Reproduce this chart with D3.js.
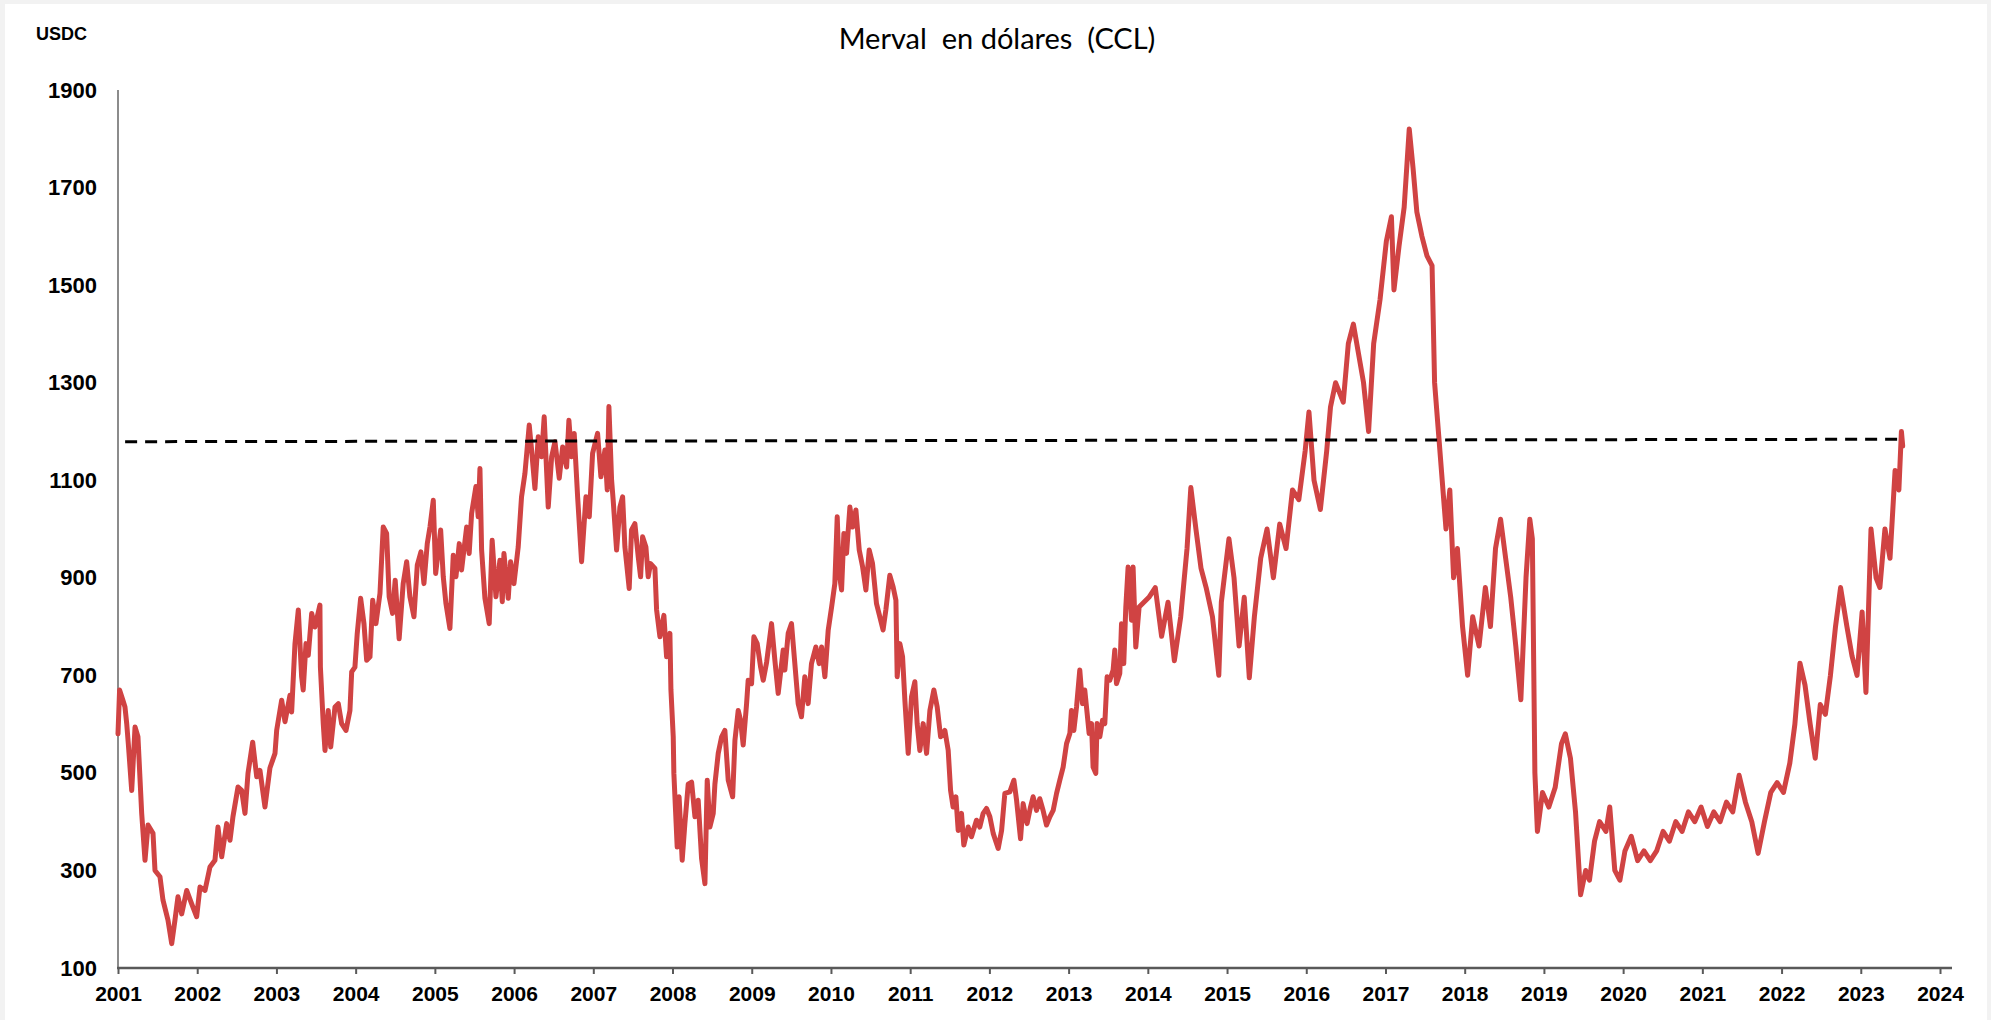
<!DOCTYPE html>
<html>
<head>
<meta charset="utf-8">
<script src="https://cdn.jsdelivr.net/npm/d3@7"></script>
<style>
  html, body { margin: 0; padding: 0; background: #f2f2f2; }
  svg { display: block; }
  .tick text { font-family: "Liberation Sans", Arial, sans-serif; font-weight: bold; fill: #000; }
  .y-axis .tick text { font-size: 22px; }
  .x-axis .tick text { font-size: 21px; }
</style>
</head>
<body>
<svg id="chart" width="1991" height="1020"></svg>
<script>
// Merval index priced in USD (CCL).
// [position on the year axis, value]
const mervalSeries = [
  [2001.000, 580], [2001.020, 670], [2001.060, 650], [2001.088, 635], [2001.110, 601], [2001.130, 560],
  [2001.173, 464], [2001.215, 594], [2001.252, 574], [2001.299, 417], [2001.341, 321], [2001.379, 393],
  [2001.442, 376], [2001.467, 300], [2001.530, 287], [2001.568, 239], [2001.631, 198], [2001.678, 150],
  [2001.719, 198], [2001.757, 246], [2001.804, 211], [2001.867, 259], [2001.929, 232], [2001.993, 205],
  [2002.035, 266], [2002.098, 259], [2002.161, 307], [2002.224, 321], [2002.262, 389], [2002.309, 328],
  [2002.372, 396], [2002.414, 362], [2002.451, 410], [2002.515, 471], [2002.561, 464], [2002.603, 417],
  [2002.641, 499], [2002.700, 563], [2002.751, 492], [2002.792, 505], [2002.855, 430], [2002.918, 510],
  [2002.982, 540], [2003.003, 587], [2003.066, 649], [2003.108, 605], [2003.171, 659], [2003.192, 625],
  [2003.234, 765], [2003.276, 834], [2003.318, 697], [2003.338, 670], [2003.373, 765], [2003.402, 741],
  [2003.445, 827], [2003.486, 799], [2003.549, 844], [2003.555, 717], [2003.591, 601], [2003.613, 546],
  [2003.654, 628], [2003.685, 553], [2003.739, 635], [2003.781, 642], [2003.823, 601], [2003.878, 587],
  [2003.928, 628], [2003.950, 707], [2003.991, 717], [2004.020, 786], [2004.063, 858], [2004.105, 806],
  [2004.139, 731], [2004.181, 738], [2004.215, 854], [2004.256, 806], [2004.307, 868], [2004.348, 1004],
  [2004.391, 991], [2004.423, 861], [2004.466, 827], [2004.499, 895], [2004.549, 775], [2004.600, 888],
  [2004.644, 933], [2004.685, 861], [2004.736, 820], [2004.778, 926], [2004.824, 953], [2004.862, 888],
  [2004.904, 970], [2004.938, 1004], [2004.980, 1059], [2005.010, 909], [2005.073, 998], [2005.106, 902],
  [2005.140, 847], [2005.190, 796], [2005.232, 946], [2005.266, 902], [2005.308, 970], [2005.337, 916],
  [2005.401, 1004], [2005.433, 950], [2005.464, 1032], [2005.518, 1087], [2005.547, 1025], [2005.569, 1124],
  [2005.590, 957], [2005.632, 858], [2005.686, 806], [2005.723, 977], [2005.771, 861], [2005.821, 936],
  [2005.851, 851], [2005.872, 950], [2005.926, 858], [2005.956, 933], [2005.998, 888], [2006.052, 963],
  [2006.094, 1066], [2006.137, 1114], [2006.191, 1213], [2006.221, 1162], [2006.263, 1083], [2006.305, 1189],
  [2006.347, 1148], [2006.380, 1230], [2006.431, 1045], [2006.474, 1148], [2006.516, 1179], [2006.570, 1104],
  [2006.613, 1168], [2006.663, 1127], [2006.692, 1223], [2006.726, 1148], [2006.759, 1196], [2006.802, 1066],
  [2006.852, 933], [2006.907, 1066], [2006.949, 1025], [2006.991, 1155], [2007.054, 1196], [2007.096, 1107],
  [2007.147, 1162], [2007.176, 1080], [2007.197, 1251], [2007.231, 1100], [2007.251, 1059], [2007.294, 957],
  [2007.336, 1045], [2007.370, 1066], [2007.399, 963], [2007.453, 878], [2007.483, 998], [2007.525, 1011],
  [2007.567, 943], [2007.597, 902], [2007.622, 984], [2007.664, 963], [2007.693, 902], [2007.723, 929],
  [2007.778, 919], [2007.799, 834], [2007.841, 779], [2007.891, 823], [2007.925, 738], [2007.967, 786],
  [2007.980, 670], [2008.009, 574], [2008.017, 499], [2008.059, 348], [2008.083, 451], [2008.122, 321],
  [2008.156, 396], [2008.198, 477], [2008.241, 481], [2008.283, 410], [2008.324, 444], [2008.367, 324],
  [2008.409, 273], [2008.438, 485], [2008.472, 389], [2008.514, 417], [2008.535, 477], [2008.577, 540],
  [2008.620, 574], [2008.661, 587], [2008.703, 485], [2008.759, 451], [2008.788, 567], [2008.829, 628],
  [2008.859, 608], [2008.892, 557], [2008.935, 642], [2008.955, 690], [2008.998, 683], [2009.027, 779],
  [2009.069, 765], [2009.112, 717], [2009.145, 690], [2009.188, 727], [2009.250, 806], [2009.292, 731],
  [2009.334, 663], [2009.397, 752], [2009.418, 711], [2009.460, 786], [2009.502, 806], [2009.544, 724],
  [2009.586, 642], [2009.628, 615], [2009.670, 697], [2009.712, 642], [2009.754, 724], [2009.809, 758],
  [2009.851, 724], [2009.882, 758], [2009.923, 697], [2009.965, 792], [2010.008, 840], [2010.049, 888],
  [2010.079, 1025], [2010.104, 909], [2010.134, 875], [2010.163, 991], [2010.197, 950], [2010.239, 1045],
  [2010.273, 1004], [2010.315, 1039], [2010.357, 957], [2010.399, 923], [2010.441, 875], [2010.483, 957],
  [2010.525, 929], [2010.575, 847], [2010.617, 820], [2010.658, 793], [2010.693, 834], [2010.743, 905],
  [2010.785, 881], [2010.820, 854], [2010.836, 697], [2010.870, 765], [2010.904, 738], [2010.933, 649],
  [2010.975, 540], [2011.017, 656], [2011.059, 687], [2011.088, 601], [2011.122, 546], [2011.164, 601],
  [2011.207, 540], [2011.249, 628], [2011.299, 670], [2011.341, 635], [2011.384, 574], [2011.438, 587],
  [2011.480, 546], [2011.510, 464], [2011.542, 430], [2011.577, 451], [2011.606, 382], [2011.648, 417],
  [2011.677, 352], [2011.732, 389], [2011.774, 369], [2011.837, 403], [2011.879, 389], [2011.921, 417],
  [2011.964, 427], [2012.006, 410], [2012.048, 376], [2012.111, 345], [2012.154, 382], [2012.195, 458],
  [2012.258, 461], [2012.309, 485], [2012.343, 444], [2012.393, 365], [2012.426, 437], [2012.476, 396],
  [2012.519, 430], [2012.552, 451], [2012.595, 423], [2012.636, 447], [2012.678, 423], [2012.721, 393],
  [2012.763, 410], [2012.805, 423], [2012.848, 458], [2012.889, 485], [2012.931, 512], [2012.974, 560],
  [2013.016, 581], [2013.036, 628], [2013.066, 587], [2013.100, 635], [2013.141, 711], [2013.175, 642],
  [2013.204, 670], [2013.234, 622], [2013.259, 581], [2013.289, 601], [2013.309, 512], [2013.343, 499],
  [2013.359, 601], [2013.394, 574], [2013.428, 608], [2013.457, 601], [2013.486, 697], [2013.520, 690],
  [2013.562, 711], [2013.583, 752], [2013.604, 683], [2013.646, 704], [2013.668, 806], [2013.696, 724],
  [2013.722, 840], [2013.751, 922], [2013.794, 813], [2013.814, 922], [2013.848, 758], [2013.890, 840],
  [2014.014, 860], [2014.094, 880], [2014.174, 780], [2014.255, 850], [2014.335, 730], [2014.415, 820],
  [2014.495, 960], [2014.543, 1085], [2014.607, 1000], [2014.671, 920], [2014.736, 880], [2014.816, 820],
  [2014.896, 700], [2014.928, 850], [2015.024, 980], [2015.088, 900], [2015.152, 760], [2015.217, 860],
  [2015.281, 695], [2015.345, 820], [2015.425, 940], [2015.505, 1000], [2015.585, 900], [2015.665, 1010],
  [2015.745, 960], [2015.826, 1080], [2015.906, 1060], [2015.986, 1160], [2016.034, 1240], [2016.098, 1100],
  [2016.178, 1040], [2016.258, 1160], [2016.306, 1250], [2016.370, 1300], [2016.467, 1260], [2016.531, 1380],
  [2016.595, 1420], [2016.659, 1360], [2016.723, 1300], [2016.787, 1200], [2016.851, 1380], [2016.931, 1470],
  [2017.011, 1590], [2017.075, 1640], [2017.107, 1490], [2017.171, 1580], [2017.236, 1660], [2017.300, 1820],
  [2017.348, 1740], [2017.396, 1650], [2017.460, 1600], [2017.524, 1560], [2017.588, 1540], [2017.620, 1300],
  [2017.668, 1200], [2017.716, 1100], [2017.764, 1000], [2017.812, 1080], [2017.860, 900], [2017.908, 960],
  [2017.973, 800], [2018.037, 700], [2018.101, 820], [2018.181, 760], [2018.261, 880], [2018.325, 800],
  [2018.389, 960], [2018.453, 1020], [2018.517, 940], [2018.581, 860], [2018.645, 760], [2018.709, 650],
  [2018.774, 900], [2018.822, 1020], [2018.854, 980], [2018.886, 500], [2018.918, 380], [2018.982, 460],
  [2019.062, 430], [2019.142, 470], [2019.222, 560], [2019.270, 580], [2019.335, 530], [2019.399, 420],
  [2019.463, 250], [2019.527, 300], [2019.575, 280], [2019.639, 360], [2019.703, 400], [2019.783, 380],
  [2019.831, 430], [2019.895, 300], [2019.959, 280], [2020.023, 340], [2020.103, 370], [2020.183, 320],
  [2020.263, 340], [2020.343, 320], [2020.423, 340], [2020.504, 380], [2020.584, 360], [2020.664, 400],
  [2020.744, 380], [2020.824, 420], [2020.904, 400], [2020.984, 430], [2021.064, 390], [2021.144, 420],
  [2021.224, 400], [2021.304, 440], [2021.384, 420], [2021.464, 495], [2021.544, 440], [2021.624, 400],
  [2021.704, 335], [2021.784, 400], [2021.864, 460], [2021.944, 480], [2022.024, 460], [2022.104, 520],
  [2022.168, 600], [2022.232, 725], [2022.296, 680], [2022.361, 600], [2022.425, 530], [2022.489, 640],
  [2022.553, 620], [2022.617, 700], [2022.681, 800], [2022.745, 880], [2022.825, 800], [2022.889, 740],
  [2022.953, 700], [2023.017, 830], [2023.065, 665], [2023.129, 1000], [2023.193, 900], [2023.241, 880],
  [2023.305, 1000], [2023.369, 940], [2023.433, 1120], [2023.481, 1080], [2023.513, 1200], [2023.529, 1170]
];

// dashed reference line: start and end
const referenceLine = [[2001.09, 1179], [2023.54, 1184]];

const yTicks = [100, 300, 500, 700, 900, 1100, 1300, 1500, 1700, 1900];
const xTicks = d3.range(2001, 2025);

const titleText = "Merval  en dólares  (CCL)";
const unitText = "USDC";

const svg = d3.select('#chart');

svg.append('rect')
    .attr('x', 5).attr('y', 4)
    .attr('width', 1982).attr('height', 1020)
    .attr('fill', '#ffffff');

const x = d3.scaleLinear()
    .domain([2001, 2024])
    .range([118, 1940]);

const y = d3.scaleLinear()
    .domain([100, 1900])
    .range([968, 90]);

// y axis
const yAxis = d3.axisLeft(y)
    .tickValues(yTicks)
    .tickSize(0)
    .tickPadding(21)
    .tickFormat(d3.format('d'));

svg.append('g')
    .attr('class', 'y-axis')
    .attr('transform', 'translate(118,0)')
    .call(yAxis)
    .call(g => g.select('.domain').remove());

svg.append('line')
    .attr('x1', 118).attr('x2', 118)
    .attr('y1', 90).attr('y2', 968)
    .attr('stroke', '#8c8c8c')
    .attr('stroke-width', 2);

// x axis
const xAxis = d3.axisBottom(x)
    .tickValues(xTicks)
    .tickSize(6)
    .tickPadding(12)
    .tickFormat(d3.format('d'));

svg.append('g')
    .attr('class', 'x-axis')
    .attr('transform', 'translate(0,968)')
    .call(xAxis)
    .call(g => g.select('.domain').remove())
    .call(g => g.selectAll('.tick line').attr('stroke', '#595959').attr('stroke-width', 2));

svg.append('line')
    .attr('x1', 117).attr('x2', 1952)
    .attr('y1', 968).attr('y2', 968)
    .attr('stroke', '#595959')
    .attr('stroke-width', 2.5);

// series
const line = d3.line()
    .x(d => x(d[0]))
    .y(d => y(d[1]));

svg.append('path')
    .datum(mervalSeries)
    .attr('fill', 'none')
    .attr('stroke', '#d04343')
    .attr('stroke-width', 5)
    .attr('stroke-linejoin', 'round')
    .attr('stroke-linecap', 'round')
    .attr('d', line);

svg.append('path')
    .datum(referenceLine)
    .attr('fill', 'none')
    .attr('stroke', '#000')
    .attr('stroke-width', 3)
    .attr('stroke-dasharray', '12,8')
    .attr('d', line);

// texts
svg.append('text')
    .attr('x', 997)
    .attr('y', 49)
    .attr('text-anchor', 'middle')
    .style('white-space', 'pre')
    .style('font-family', 'Lato, "Open Sans", sans-serif')
    .style('font-size', '29px')
    .style('fill', '#000')
    .text(titleText);

svg.append('text')
    .attr('x', 36)
    .attr('y', 39.5)
    .style('font-family', '"Liberation Sans", Arial, sans-serif')
    .style('font-weight', 'bold')
    .style('font-size', '18px')
    .style('fill', '#000')
    .text(unitText);
</script>
</body>
</html>
